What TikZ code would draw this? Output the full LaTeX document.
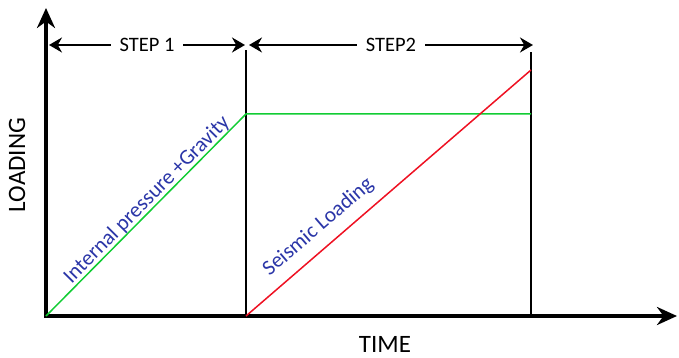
\documentclass[tikz,border=0pt]{standalone}
\usepackage{fontspec}
\setmainfont{Carlito}
\usetikzlibrary{arrows.meta,positioning,calc}
\definecolor{lblue}{HTML}{2B36A8}
\definecolor{lgreen}{HTML}{11CC33}
\definecolor{lred}{HTML}{EE1122}

\begin{document}
\begin{tikzpicture}[
    x=1pt, y=1pt,
    axis/.style={line width=4pt, black,
                 {Stealth[length=20pt,width=18pt]}-{Stealth[length=20pt,width=18pt]}},
    stepline/.style={line width=1.8pt, black},
    span/.style={line width=1.8pt, black,
                 {Stealth[length=13pt,width=15pt]}-{Stealth[length=13pt,width=15pt]}},
    steplabel/.style={fill=white, inner xsep=9pt, font=\fontsize{20.5}{24}\selectfont},
    axislabel/.style={font=\fontsize{25}{30}\selectfont},
    load/.style={line width=1.5pt},
    curvelabel/.style={text=lblue, sloped, font=\fontsize{21.5}{25}\selectfont}
]
\useasboundingbox (0,0) rectangle (679,358);

% axes
\coordinate (O) at (46,42);
\coordinate (ytip) at (46,350);
\coordinate (xtip) at (677,42);
\draw[axis] (ytip) -- (O) -- (xtip);

% step boundaries
\coordinate (s1) at (246,42);
\coordinate (s1top) at (246,308);
\coordinate (s2) at (531,42);
\coordinate (s2top) at (531,306);
\draw[stepline] (s1) -- (s1top);
\draw[stepline] (s2) -- (s2top);

% step spans
\coordinate (a1) at (49,313);
\coordinate (b1) at (245,313);
\coordinate (a2) at (249,313);
\coordinate (b2) at (533,313);
\draw[span] (a1) -- (b1) node[steplabel, midway] {STEP 1};
\draw[span] (a2) -- (b2) node[steplabel, midway] {STEP2};

% loading curves
\coordinate (g1) at (246,244);
\coordinate (g2) at (531,244);
\coordinate (r1) at (531,288);
\draw[load, lgreen] (O) -- (g1)
    node[curvelabel, pos=.54, above, inner sep=0pt] {Internal pressure +Gravity}
    -- (g2);
\draw[load, lred] (s1) -- (r1)
    node[curvelabel, pos=.30, above, inner sep=10pt] {Seismic Loading};

% axis labels
\node[axislabel, rotate=90] (loading) at (17,193) {LOADING};
\node[axislabel] (time) at (385,14) {TIME};
\end{tikzpicture}
\end{document}
